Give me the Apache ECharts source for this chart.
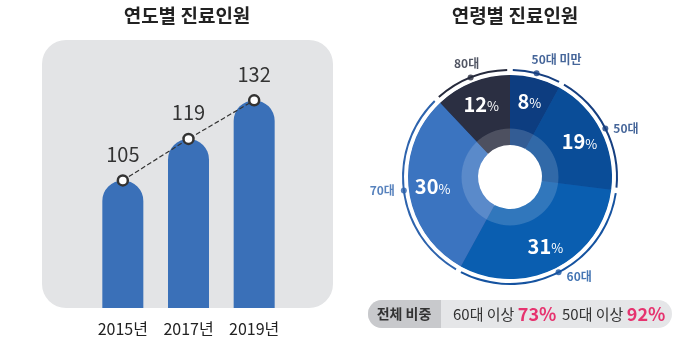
<!DOCTYPE html>
<html>
<head>
<meta charset="utf-8">
<script src="https://cdn.jsdelivr.net/npm/echarts@6/dist/echarts.min.js"></script>
<style>
html,body{margin:0;padding:0;background:#fff;}
#c{width:700px;height:337px;}
</style>
</head>
<body>
<div id="c"></div>
<script>
// ---- data ----
var years = ['2015년', '2017년', '2019년'];
var patients = [105, 119, 132];
var ageGroups = ['50대 미만', '50대', '60대', '70대', '80대'];
var agePercents = [8, 19, 31, 30, 12];
var ageColors = ['#0d3d80', '#0a4d98', '#0a5eb0', '#3b74c0', '#2b2f42'];
var ageLabelColors = ['#163f80', '#163f80', '#1553a0', '#2d63ad', '#262a3c'];

var FONT = '"Noto Sans CJK KR", "Noto Sans", sans-serif';
var CX = 510, CY = 177;

// derived
var over60 = agePercents[2] + agePercents[3] + agePercents[4];
var over50 = agePercents[1] + over60;
var total = agePercents.reduce(function (a, b) { return a + b; }, 0);

var pieData = ageGroups.map(function (n, i) {
  return { name: n, value: agePercents[i], itemStyle: { color: ageColors[i] } };
});

// mid-angle (in percent units) of each slice for the outer dots
var cum = 0;
var labelPos = [
  { position: 'top', distance: 5, align: 'left', offset: [-5, 0] },
  { position: 'right', distance: 5 },
  { position: 'right', distance: 5, offset: [0, 4] },
  { position: 'left', distance: 6 },
  { position: 'top', distance: 5, offset: [-4, 0] }
];
var dotData = agePercents.map(function (v, i) {
  var mid = cum + v / 2;
  cum += v;
  var lp = labelPos[i];
  return {
    name: ageGroups[i],
    value: [107, mid],
    itemStyle: { color: ageLabelColors[i] },
    label: Object.assign({
      show: true, formatter: ageGroups[i], color: ageLabelColors[i],
      fontSize: 12, fontWeight: 'bold', fontFamily: FONT
    }, lp)
  };
});

var noBorder = { borderWidth: 0, borderColor: 'transparent' };

var chart = echarts.init(document.getElementById('c'), null, { renderer: 'canvas' });
chart.setOption({
  animation: false,
  textStyle: { fontFamily: FONT },
  grid: { left: 90, width: 197, top: 41, bottom: 29 },
  xAxis: {
    type: 'category', data: years,
    axisLine: { show: false }, axisTick: { show: false },
    axisLabel: { fontSize: 16, color: '#222', margin: 13, fontFamily: FONT }
  },
  yAxis: { type: 'value', min: 62, max: 152, show: false, splitLine: { show: false } },
  polar: { center: [CX, CY], radius: [0, 108] },
  angleAxis: { type: 'value', min: 0, max: 100, startAngle: 90, clockwise: true, show: false,
    axisLine: { show: false }, axisTick: { show: false }, axisLabel: { show: false }, splitLine: { show: false }, splitArea: { show: false } },
  radiusAxis: { type: 'value', min: 0, max: 108, show: false,
    axisLine: { show: false }, axisTick: { show: false }, axisLabel: { show: false }, splitLine: { show: false }, splitArea: { show: false } },
  graphic: [
    { type: 'rect', z: -10, shape: { x: 42, y: 40, width: 291, height: 268, r: 24 }, style: { fill: '#e3e4e6' } },
    { type: 'text', x: 187, y: 16, style: { text: '연도별 진료인원', fill: '#222', font: 'bold 19px ' + FONT, textAlign: 'center', textVerticalAlign: 'middle' } },
    { type: 'text', x: 515, y: 16, style: { text: '연령별 진료인원', fill: '#222', font: 'bold 19px ' + FONT, textAlign: 'center', textVerticalAlign: 'middle' } },
    { type: 'rect', shape: { x: 368, y: 300, width: 304, height: 28, r: 14 }, style: { fill: '#e5e6e8' } },
    { type: 'rect', shape: { x: 368, y: 300, width: 73, height: 28, r: [14, 0, 0, 14] }, style: { fill: '#c8c9cc' } },
    { type: 'text', x: 404, y: 314, style: { text: '전체 비중', fill: '#333', font: 'bold 14px ' + FONT, textAlign: 'center', textVerticalAlign: 'middle' } },
    { type: 'text', x: 453, y: 314, style: {
        text: '{a|60대 이상 }{b|' + over60 + '%}', textAlign: 'left', textVerticalAlign: 'middle',
        rich: { a: { fontSize: 15, fill: '#333', fontFamily: FONT }, b: { fontSize: 18, fontWeight: 'bold', fill: '#e6336f', fontFamily: FONT } } } },
    { type: 'text', x: 562, y: 314, style: {
        text: '{a|50대 이상 }{b|' + over50 + '%}', textAlign: 'left', textVerticalAlign: 'middle',
        rich: { a: { fontSize: 15, fill: '#333', fontFamily: FONT }, b: { fontSize: 18, fontWeight: 'bold', fill: '#e6336f', fontFamily: FONT } } } }
  ],
  series: [
    {
      type: 'bar', data: patients, barWidth: 41,
      itemStyle: { color: '#3a70b8', borderRadius: [20.5, 20.5, 0, 0] }
    },
    {
      type: 'line', data: patients, z: 5,
      symbol: 'circle', symbolSize: 10,
      itemStyle: { color: '#fff', borderColor: '#333', borderWidth: 2.5 },
      lineStyle: { type: 'dashed', color: '#333', width: 1.2 },
      label: { show: true, position: 'top', distance: 10, fontSize: 20, color: '#333', fontFamily: FONT }
    },
    {
      // underlay disc so the anti-aliased seams between slices stay blue
      type: 'pie', center: [CX, CY], radius: [33, 101.5], z: 1, silent: true,
      data: [{ name: 'all', value: total, itemStyle: { color: '#1b4f98' } }],
      itemStyle: noBorder, label: { show: false }, labelLine: { show: false }
    },
    {
      type: 'pie', center: [CX, CY], radius: [48, 102], startAngle: 90, clockwise: true, z: 2,
      silent: true, data: pieData, itemStyle: noBorder,
      label: {
        show: true, position: 'inside',
        formatter: '{v|{c}}{p|%}',
        rich: {
          v: { fontSize: 20, fontWeight: 'bold', color: '#fff', fontFamily: FONT },
          p: { fontSize: 13, color: '#fff', fontFamily: FONT, padding: [4, 0, 0, 0] }
        }
      },
      labelLine: { show: false }
    },
    {
      type: 'pie', center: [CX, CY], radius: [32, 48.5], startAngle: 90, clockwise: true, z: 2,
      silent: true, data: pieData, itemStyle: noBorder,
      label: { show: false }, labelLine: { show: false }
    },
    {
      // translucent white ring over the inner part of the slices
      type: 'pie', center: [CX, CY], radius: [32, 48.5], z: 3, silent: true,
      data: [{ name: 'ring', value: total, itemStyle: { color: 'rgba(255,255,255,0.16)' } }],
      itemStyle: noBorder, label: { show: false }, labelLine: { show: false }
    },
    {
      type: 'pie', center: [CX, CY], radius: [106, 108], startAngle: 90, clockwise: true, z: 2,
      silent: true, padAngle: 3, itemStyle: noBorder,
      data: ageGroups.map(function (n, i) { return { name: n, value: agePercents[i], itemStyle: { color: ageLabelColors[i] } }; }),
      label: { show: false }, labelLine: { show: false }
    },
    {
      type: 'scatter', coordinateSystem: 'polar', data: dotData,
      symbol: 'circle', symbolSize: 6, z: 6, silent: true
    }
  ]
});
</script>
</body>
</html>
